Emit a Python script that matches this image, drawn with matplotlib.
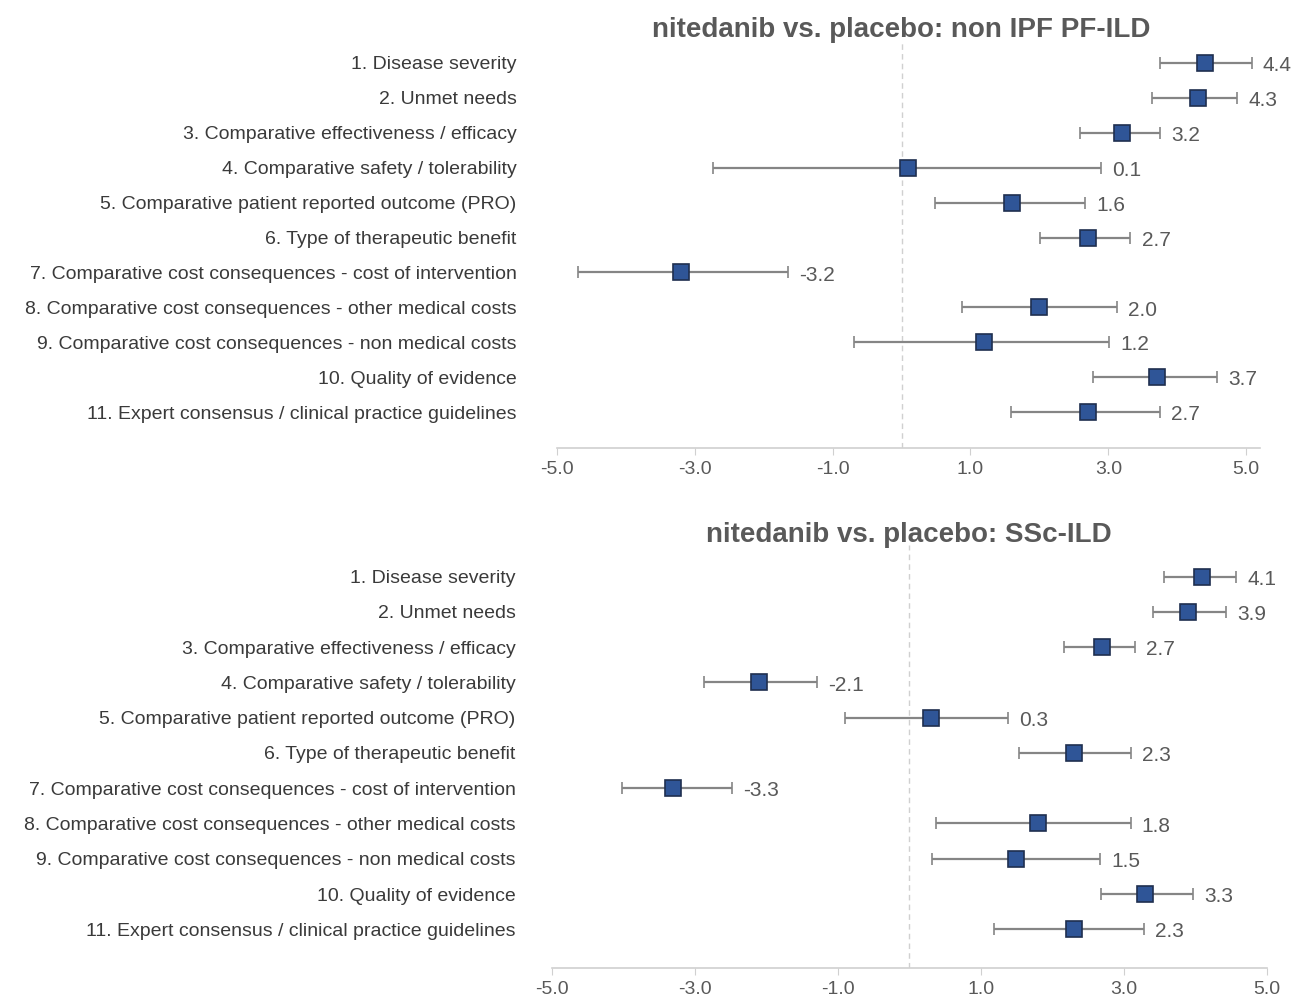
import matplotlib
matplotlib.use("Agg")
import matplotlib.pyplot as plt
from matplotlib import font_manager

fams = [f.name for f in font_manager.fontManager.ttflist]
narrow = "Liberation Sans Narrow" if "Liberation Sans Narrow" in fams else "Liberation Sans"
plt.rcParams["font.family"] = [narrow, "DejaVu Sans"]

criteria = [
    "1. Disease severity",
    "2. Unmet needs",
    "3. Comparative effectiveness / efficacy",
    "4. Comparative safety / tolerability",
    "5. Comparative patient reported outcome (PRO)",
    "6. Type of therapeutic benefit",
    "7. Comparative cost consequences - cost of intervention",
    "8. Comparative cost consequences - other medical costs",
    "9. Comparative cost consequences - non medical costs",
    "10. Quality of evidence",
    "11. Expert consensus / clinical practice guidelines",
]

# nitedanib vs placebo: non IPF PF-ILD
pf_mean = [4.4, 4.3, 3.2, 0.1, 1.6, 2.7, -3.2, 2.0, 1.2, 3.7, 2.7]
pf_low = [3.75, 3.64, 2.59, -2.74, 0.49, 2.01, -4.70, 0.87, -0.69, 2.77, 1.59]
pf_high = [5.08, 4.87, 3.75, 2.90, 2.66, 3.32, -1.64, 3.12, 3.01, 4.58, 3.75]

# nitedanib vs placebo: SSc-ILD
ssc_mean = [4.1, 3.9, 2.7, -2.1, 0.3, 2.3, -3.3, 1.8, 1.5, 3.3, 2.3]
ssc_low = [3.57, 3.41, 2.17, -2.87, -0.89, 1.54, -4.01, 0.38, 0.32, 2.68, 1.19]
ssc_high = [4.58, 4.43, 3.16, -1.29, 1.39, 3.10, -2.48, 3.10, 2.67, 3.97, 3.28]

xticks = [-5.0, -3.0, -1.0, 1.0, 3.0, 5.0]

panels = [
    ("nitedanib vs. placebo: non IPF PF-ILD", pf_mean, pf_low, pf_high,
     [0.430, 0.551, 0.543, 0.409], (-5.0, 5.2), (10 + 1.03, -0.66), 29),
    ("nitedanib vs. placebo: SSc-ILD", ssc_mean, ssc_low, ssc_high,
     [0.426, 0.030, 0.552, 0.424], (-5.0, 5.0), (10 + 1.1, -0.9), 26),
]

txt = "#595959"
fig = plt.figure(figsize=(12.95, 9.98), dpi=100)

for title, mean, low, high, rect, xl, yl, pad in panels:
    ax = fig.add_axes(rect)
    y = list(range(len(criteria)))
    err = [[m - l for m, l in zip(mean, low)], [h - m for m, h in zip(mean, high)]]
    ax.axvline(0, color="#d0d0d0", lw=1, ls=(0, (4, 3)), zorder=1)
    ax.errorbar(mean, y, xerr=err, fmt="none", ecolor="#858585", elinewidth=1.6,
                capsize=4, capthick=1.2, zorder=2)
    ax.plot(mean, y, ls="none", marker="s", ms=11.5, mfc="#2f5597",
            mec="#1f2f4f", mew=1.2, zorder=3)
    for yi, m, h in zip(y, mean, high):
        ax.annotate(f"{m:.1f}", (h, yi), xytext=(8, -0.5), textcoords="offset points",
                    ha="left", va="center_baseline", fontsize=15, color=txt)
    ax.set_xlim(*xl)
    ax.set_ylim(*yl)
    ax.set_xticks(xticks)
    ax.set_xticklabels([f"{t:.1f}" for t in xticks], fontsize=14, color=txt)
    ax.set_yticks(y)
    ax.set_yticklabels(criteria, fontsize=14, color="#3a3a3a")
    ax.tick_params(axis="y", length=0, pad=pad)
    ax.tick_params(axis="x", length=5, color="#d0d0d0", pad=4)
    for s in ["top", "right", "left"]:
        ax.spines[s].set_visible(False)
    ax.spines["bottom"].set_color("#d0d0d0")
    ax.spines["bottom"].set_linewidth(1.2)
    ax.text(0, 0.993, title, transform=ax.get_xaxis_transform(), ha="center",
            va="bottom", fontsize=20, fontweight="bold", color=txt)

fig.savefig("out.png", dpi=100)
